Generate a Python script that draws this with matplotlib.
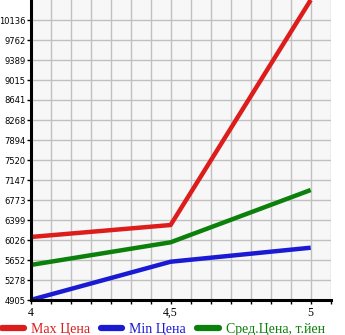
import matplotlib
matplotlib.use("Agg")
import matplotlib.pyplot as plt
import numpy as np
from matplotlib.ticker import FixedLocator, FixedFormatter

x_values = [4.0, 4.5, 5.0]
x_tick_labels = ["4", "4,5", "5"]
max_price = [6082, 6306, 10510]
min_price = [4905, 5620, 5882]
avg_price = [5559, 5983, 6960]
series_names = ["Max Цена", "Min Цена", "Сред.Цена, т.йен"]
series_colors = ["#dd1c1c", "#1a1ad4", "#0b800b"]
y_tick_labels = ["4905", "5278", "5652", "6026", "6399", "6773", "7147", "7520",
                 "7894", "8268", "8641", "9015", "9389", "9762", "10136"]

fig = plt.figure(figsize=(3.45, 3.35), dpi=100)
ax = fig.add_axes([30.5 / 345, 35 / 335, 300.2 / 345, 300 / 335])
ax.set_facecolor("#f7f7f7")

ymin, ymax = min(min_price), max(max_price)
ax.set_ylim(ymin, ymax)
step_x = 0.5 / 7
ax.set_xlim(4.0, 4.0 + 15 * step_x)

yt = np.linspace(ymin, ymax, 16)[:-1]
ax.yaxis.set_major_locator(FixedLocator(yt))
ax.yaxis.set_major_formatter(FixedFormatter(y_tick_labels))
xt = 4.0 + step_x * np.arange(16)
ax.xaxis.set_major_locator(FixedLocator(xt))
xl = []
for v in xt:
    lab = ""
    for xv, l in zip(x_values, x_tick_labels):
        if abs(v - xv) < 1e-6:
            lab = l
    xl.append(lab)
ax.xaxis.set_major_formatter(FixedFormatter(xl))

ax.grid(True, color="#c0c0c0", linewidth=1.0)
ax.set_axisbelow(True)
for s in ["top", "right"]:
    ax.spines[s].set_visible(False)
ax.spines["left"].set_linewidth(2.2)
ax.spines["bottom"].set_linewidth(2.2)
ax.tick_params(axis="y", length=3, width=1, pad=0.3, labelsize=6.0,
               labelfontfamily="DejaVu Sans")
ax.tick_params(axis="x", length=3, width=1, pad=2, labelsize=8.5,
               labelfontfamily="Liberation Serif")

series = [max_price, min_price, avg_price]
handles = []
for vals, name, col in zip(series, series_names, series_colors):
    h, = ax.plot(x_values, vals, color=col, linewidth=3.2, label=name,
                 solid_capstyle="butt", clip_on=True)
    handles.append(h)

leg = fig.legend(handles=handles, loc="lower left", bbox_to_anchor=(0.0, -0.008),
                 ncol=3, frameon=False, borderpad=0.15, handlelength=1.55,
                 handletextpad=0.5, columnspacing=0.8,
                 borderaxespad=0.0,
                 prop={"family": "Liberation Serif", "size": 10})
for t, col in zip(leg.get_texts(), series_colors):
    t.set_color(col)
for lh in leg.legend_handles:
    lh.set_linewidth(4.5)
    lh.set_solid_capstyle("round")

fig.savefig("out.png", dpi=100)
